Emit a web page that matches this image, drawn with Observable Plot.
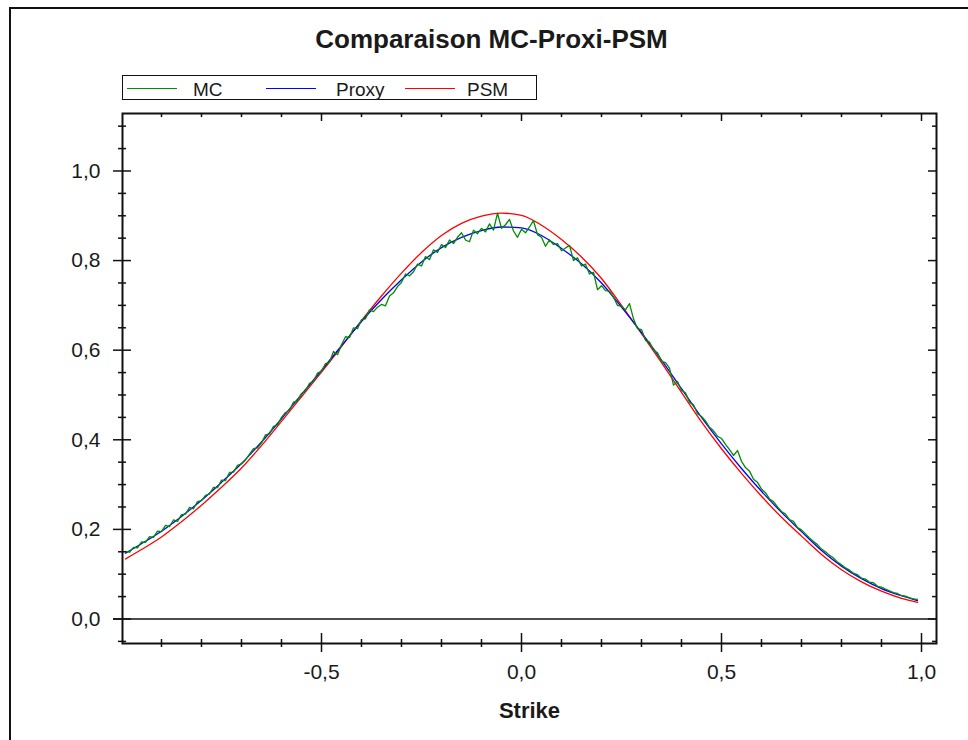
<!DOCTYPE html>
<html><head><meta charset="utf-8">
<script src="https://cdn.jsdelivr.net/npm/d3@7"></script>
<script src="https://cdn.jsdelivr.net/npm/@observablehq/plot@0.6"></script>
<style>
html,body{margin:0;padding:0;background:#fff;overflow:hidden;}
#page{position:relative;width:968px;height:740px;font-family:"Liberation Sans",Arial,sans-serif;color:#1a1a1a;overflow:hidden;}
#border{position:absolute;left:9px;top:7px;width:1000px;height:800px;border-left:2px solid #111;border-top:2px solid #111;pointer-events:none;}
#head{position:relative;height:104px;}
#title{position:absolute;left:0;width:983px;top:26px;line-height:26px;font-size:26px;font-weight:bold;text-align:center;}
#legendBox{position:absolute;left:122px;top:75px;width:413px;height:23px;border:1.5px solid #111;}
.lgline{position:absolute;height:1.5px;top:87.5px;}
.lgtext{position:absolute;top:80px;font-size:19px;line-height:19px;}
#chart{position:relative;}
</style>
</head><body>
<div id="page">
  <div id="head">
    <div id="title">Comparaison MC-Proxi-PSM</div>
    <div id="legendBox"></div>
  </div>
  <div id="chart"></div>
  <div id="border"></div>
</div>
<script>
// ---- data ----
const seriesNames = ["MC", "Proxy", "PSM"];
const seriesColors = ["#008c00", "#0000ff", "#ff0000"];

// Proxy and PSM read every 0.05 in strike
const smoothStrike = [-0.99,-0.95,-0.90,-0.85,-0.80,-0.75,-0.70,-0.65,-0.60,-0.55,-0.50,-0.45,-0.40,-0.35,-0.30,-0.25,-0.20,-0.15,-0.10,-0.05,
  0.00,0.05,0.10,0.15,0.20,0.25,0.30,0.35,0.40,0.45,0.50,0.55,0.60,0.65,0.70,0.75,0.80,0.85,0.90,0.95,0.99];
const proxyValues = [0.147,0.168,0.196,0.229,0.265,0.305,0.347,0.395,0.447,0.501,0.555,0.610,0.664,0.713,0.757,0.797,0.829,0.852,0.867,0.875,
  0.873,0.856,0.827,0.793,0.750,0.696,0.639,0.578,0.514,0.450,0.391,0.336,0.285,0.238,0.195,0.153,0.118,0.090,0.068,0.052,0.041];
const psmValues = [0.134,0.155,0.183,0.217,0.254,0.294,0.337,0.387,0.441,0.496,0.551,0.608,0.666,0.721,0.772,0.818,0.856,0.883,0.899,0.906,
  0.901,0.879,0.847,0.808,0.760,0.700,0.637,0.572,0.506,0.440,0.380,0.325,0.274,0.227,0.185,0.144,0.110,0.083,0.062,0.046,0.037];

// MC read every 0.01 in strike, from -0.99 to 0.99
const mcStart = -0.99, mcStep = 0.01;
const mcValues = [
  0.151,0.149,0.160,0.159,0.172,0.171,0.184,0.182,0.196,0.195,
  0.209,0.206,0.221,0.218,0.233,0.234,0.249,0.246,0.262,0.264,
  0.276,0.279,0.294,0.293,0.310,0.309,0.327,0.328,0.343,0.346,
  0.355,0.368,0.380,0.382,0.393,0.411,0.413,0.430,0.433,0.450,
  0.461,0.466,0.484,0.487,0.503,0.509,0.526,0.530,0.549,0.553,
  0.570,0.573,0.597,0.590,0.612,0.630,0.628,0.650,0.648,0.668,
  0.670,0.690,0.686,0.696,0.702,0.699,0.721,0.728,0.742,0.751,
  0.770,0.766,0.775,0.792,0.788,0.809,0.802,0.824,0.818,0.836,
  0.829,0.846,0.838,0.852,0.862,0.846,0.842,0.868,0.860,0.872,
  0.864,0.882,0.868,0.906,0.872,0.880,0.892,0.866,0.852,0.870,
  0.862,0.875,0.889,0.858,0.852,0.832,0.846,0.836,0.838,0.822,
  0.828,0.834,0.800,0.806,0.788,0.792,0.770,0.774,0.735,0.744,
  0.733,0.732,0.718,0.700,0.698,0.690,0.704,0.670,0.648,0.646,
  0.622,0.618,0.600,0.594,0.575,0.572,0.560,0.522,0.530,0.510,
  0.505,0.484,0.478,0.458,0.452,0.442,0.428,0.420,0.408,0.403,
  0.390,0.378,0.365,0.376,0.352,0.338,0.330,0.312,0.305,0.290,
  0.282,0.268,0.262,0.250,0.240,0.234,0.222,0.218,0.204,0.199,
  0.190,0.181,0.173,0.166,0.156,0.150,0.142,0.136,0.127,0.121,
  0.114,0.109,0.102,0.099,0.091,0.089,0.082,0.081,0.073,0.071,
  0.067,0.063,0.059,0.057,0.052,0.051,0.047,0.045,0.044];

const xMajor = [-0.5, 0.0, 0.5, 1.0];
const xMinor = [-0.9,-0.8,-0.7,-0.6,-0.4,-0.3,-0.2,-0.1,0.1,0.2,0.3,0.4,0.6,0.7,0.8,0.9];
const yMajor = [0.0, 0.2, 0.4, 0.6, 0.8, 1.0];
const yMinor = [-0.05,0.05,0.1,0.15,0.25,0.3,0.35,0.45,0.5,0.55,0.65,0.7,0.75,0.85,0.9,0.95,1.05,1.1];
const xDomain = [-0.9975, 1.0375];
const yDomain = [-0.0547, 1.1283];
const xTitle = "Strike";

// ---- legend (HTML above the svg) ----
const head = document.getElementById("head");
const legendLine = [[127, 50], [266, 50], [405, 50]];
const legendText = [193, 336, 467];
seriesNames.forEach((n, i) => {
  const l = document.createElement("div");
  l.className = "lgline";
  l.style.left = legendLine[i][0] + "px";
  l.style.width = legendLine[i][1] + "px";
  l.style.background = seriesColors[i];
  head.appendChild(l);
  const t = document.createElement("div");
  t.className = "lgtext";
  t.style.left = legendText[i] + "px";
  t.textContent = n;
  head.appendChild(t);
});

// ---- tables ----
const mc = mcValues.map((v, i) => ({x: mcStart + i * mcStep, y: v}));
const proxy = smoothStrike.map((x, i) => ({x, y: proxyValues[i]}));
const psm = smoothStrike.map((x, i) => ({x, y: psmValues[i]}));

const W = 968, H = 636, mt = 9, mb = 97, ml = 122, mr = 32;
const iw = W - ml - mr, ih = H - mt - mb;
const fmt = d => d.toFixed(1).replace(".", ",");
const ink = "#111";

const chart = Plot.plot({
  width: W, height: H,
  marginTop: mt, marginBottom: mb, marginLeft: ml, marginRight: mr,
  x: {domain: xDomain},
  y: {domain: yDomain},
  style: {fontFamily: "'Liberation Sans', Arial, sans-serif", fontSize: "21px", color: "#1a1a1a", background: "#fff"},
  marks: [
    Plot.ruleY([0], {stroke: ink, strokeWidth: 1.5, insetLeft: -9}),
    Plot.line(psm, {x: "x", y: "y", stroke: seriesColors[2], strokeWidth: 1.3, curve: "monotone-x"}),
    Plot.line(proxy, {x: "x", y: "y", stroke: seriesColors[1], strokeWidth: 1.3, curve: "monotone-x"}),
    Plot.line(mc, {x: "x", y: "y", stroke: seriesColors[0], strokeWidth: 1.3}),
    Plot.frame({stroke: ink, strokeWidth: 2}),
    // bottom ticks (crossing)
    Plot.tickX(xMajor, {x: d => d, stroke: ink, strokeWidth: 1.5, insetTop: ih - 10, insetBottom: -9}),
    Plot.tickX(xMinor, {x: d => d, stroke: ink, strokeWidth: 1.5, insetTop: ih - 4, insetBottom: -4}),
    // top ticks (inward)
    Plot.tickX(xMajor, {x: d => d, stroke: ink, strokeWidth: 1.5, insetTop: 0, insetBottom: ih - 8}),
    Plot.tickX(xMinor, {x: d => d, stroke: ink, strokeWidth: 1.5, insetTop: 0, insetBottom: ih - 4}),
    // left ticks (crossing)
    Plot.tickY(yMajor, {y: d => d, stroke: ink, strokeWidth: 1.5, insetLeft: -9, insetRight: iw - 9}),
    Plot.tickY(yMinor, {y: d => d, stroke: ink, strokeWidth: 1.5, insetLeft: -4, insetRight: iw - 4}),
    // right ticks (inward)
    Plot.tickY(yMajor, {y: d => d, stroke: ink, strokeWidth: 1.5, insetLeft: iw - 8, insetRight: 0}),
    Plot.tickY(yMinor, {y: d => d, stroke: ink, strokeWidth: 1.5, insetLeft: iw - 4, insetRight: 0}),
    Plot.axisX(xMajor, {tickSize: 0, tickPadding: 21, tickFormat: fmt, label: null, fontSize: 21}),
    Plot.axisY(yMajor, {tickSize: 0, tickPadding: 22, tickFormat: fmt, label: null, fontSize: 21}),
    Plot.text([xTitle], {text: d => d, frameAnchor: "bottom", dy: 74, fontSize: 22, fontWeight: "bold", fill: "#1a1a1a"})
  ]
});
document.getElementById("chart").appendChild(chart);
</script>
</body></html>
